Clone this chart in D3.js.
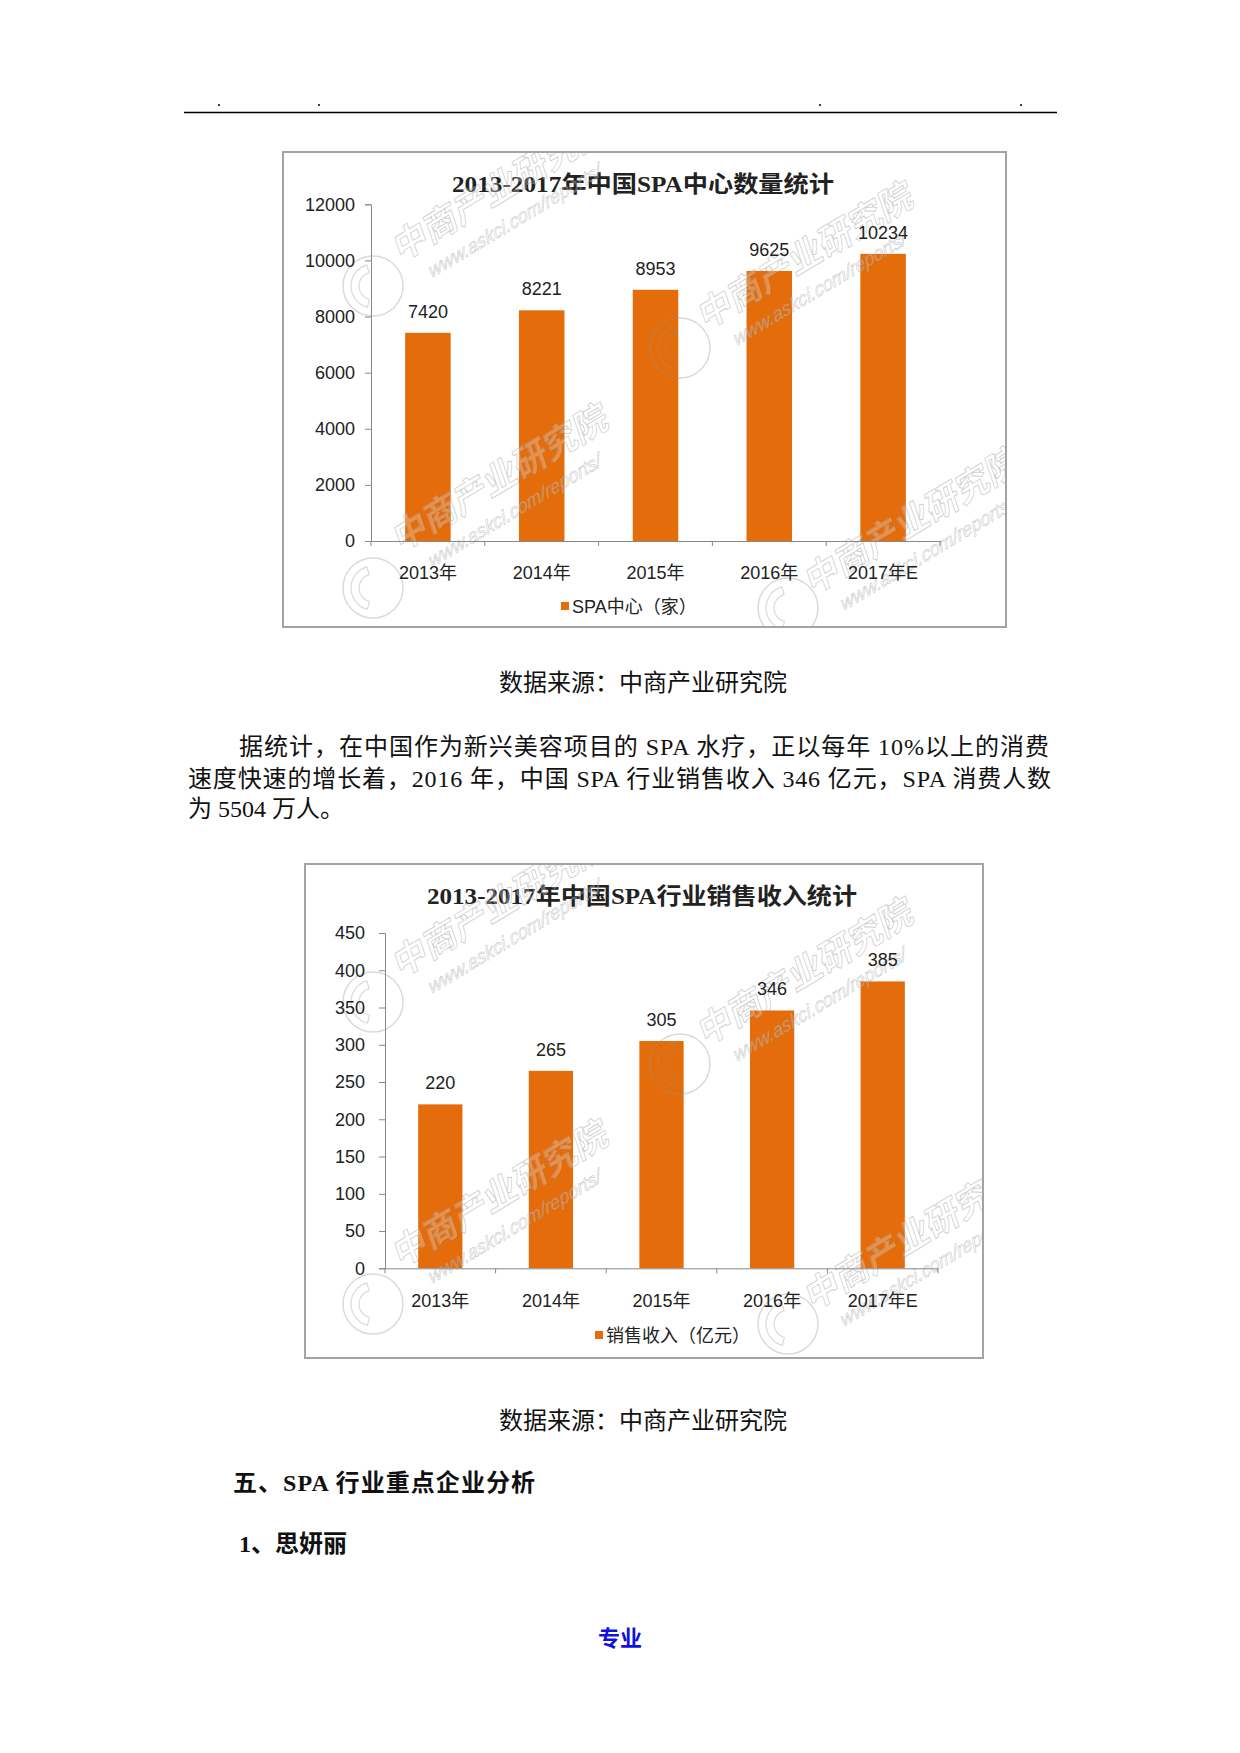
<!DOCTYPE html>
<html>
<head>
<meta charset="utf-8">
<script src="https://cdn.jsdelivr.net/npm/d3@7"></script>
<style>
  body { margin: 0; background: #fff; }
  svg { display: block; }
</style>
</head>
<body>
<svg id="page" width="1240" height="1753"></svg>
<script>
// chart data
const years = ["2013年", "2014年", "2015年", "2016年", "2017年E"];
const spaCenters = [7420, 8221, 8953, 9625, 10234];
const salesRevenue = [220, 265, 305, 346, 385];
const centerTicks = [0, 2000, 4000, 6000, 8000, 10000, 12000];
const revenueTicks = [0, 50, 100, 150, 200, 250, 300, 350, 400, 450];

const serif = "'Liberation Serif', 'Noto Sans CJK SC', serif";
const sans = "'Liberation Sans', 'Noto Sans CJK SC', sans-serif";
const orange = "#e46c0a";

const svg = d3.select("#page");
const defs = svg.append("defs");

// page header rule + dots
svg.append("line")
    .attr("x1", 184).attr("x2", 1057)
    .attr("y1", 112.5).attr("y2", 112.5)
    .attr("stroke", "#000").attr("stroke-width", 1.3);
[219, 319, 820, 1021].forEach(x => {
    svg.append("circle").attr("cx", x).attr("cy", 105).attr("r", 1).attr("fill", "#000");
});

function watermark(g, dx, dy) {
    var marks = [
        {x: 400, y: 262, lx: 375, ly: 290},
        {x: 705, y: 330, lx: 682, ly: 352},
        {x: 400, y: 552, lx: 375, ly: 592},
        {x: 812, y: 595, lx: 790, ly: 612}
    ];
    marks.forEach(m => {
        var w = g.append("g").attr("transform", "translate(" + (m.x + dx) + "," + (m.y + dy) + ") rotate(-31) skewX(-12)");
        w.append("text").text("中商产业研究院")
            .attr("font-family", sans).attr("font-size", 35).attr("font-weight", "bold")
            .attr("fill", "rgba(255,255,255,0.25)").attr("stroke", "rgba(150,150,150,0.45)")
            .attr("stroke-width", 0.9);
        w.append("text").text("www.askci.com/reports/")
            .attr("x", 25).attr("y", 30)
            .attr("font-family", sans).attr("font-size", 19).attr("font-style", "italic")
            .attr("fill", "rgba(255,255,255,0.25)").attr("stroke", "rgba(150,150,150,0.45)")
            .attr("stroke-width", 0.7);
        g.append("circle").attr("cx", m.lx + dx - 2).attr("cy", m.ly + dy - 4).attr("r", 30)
            .attr("fill", "none").attr("stroke", "rgba(150,150,150,0.35)").attr("stroke-width", 1.5);
        g.append("path")
            .attr("d", d3.arc()({innerRadius: 14, outerRadius: 22, startAngle: 3.4, endAngle: 6.0}))
            .attr("transform", "translate(" + (m.lx + dx - 2) + "," + (m.ly + dy - 4) + ")")
            .attr("fill", "none").attr("stroke", "rgba(150,150,150,0.35)").attr("stroke-width", 1.2);
    });
}

function drawChart(cfg) {
    var g = svg.append("g");

    defs.append("clipPath").attr("id", cfg.id)
        .append("rect")
        .attr("x", cfg.box[0]).attr("y", cfg.box[1])
        .attr("width", cfg.box[2]).attr("height", cfg.box[3]);

    g.append("rect")
        .attr("x", cfg.box[0]).attr("y", cfg.box[1])
        .attr("width", cfg.box[2]).attr("height", cfg.box[3])
        .attr("fill", "#fff");

    var x = d3.scaleBand().domain(years).range(cfg.xRange)
        .paddingInner(0.6).paddingOuter(0.3);
    var y = d3.scaleLinear().domain([0, d3.max(cfg.ticks)]).range(cfg.yRange);

    // title
    g.append("text")
        .attr("x", cfg.titleX).attr("y", cfg.titleY + 8)
        .attr("text-anchor", "middle")
        .attr("font-family", serif).attr("font-weight", "bold").attr("font-size", 23)
        .attr("textLength", cfg.titleW).attr("lengthAdjust", "spacingAndGlyphs")
        .attr("fill", "#222")
        .text(cfg.title);

    // bars
    g.selectAll(".bar").data(cfg.values).enter().append("rect")
        .attr("x", (d, i) => x(years[i]))
        .attr("y", d => y(d))
        .attr("width", x.bandwidth())
        .attr("height", d => y(0) - y(d))
        .attr("fill", orange);

    watermark(g.append("g").attr("clip-path", "url(#" + cfg.id + ")"), cfg.wmDx, cfg.wmDy);

    // value labels
    g.selectAll(".val").data(cfg.values).enter().append("text")
        .attr("x", (d, i) => x(years[i]) + x.bandwidth() / 2)
        .attr("y", d => y(d) - 15)
        .attr("text-anchor", "middle")
        .attr("font-family", sans).attr("font-size", 18).attr("fill", "#222")
        .text(d => d);

    // y axis
    var yAxis = g.append("g")
        .attr("transform", "translate(" + cfg.xRange[0] + ",0)")
        .call(d3.axisLeft(y).tickValues(cfg.ticks).tickFormat(d3.format("d"))
            .tickSize(6).tickPadding(cfg.tickPad));
    yAxis.select(".domain").attr("stroke", "#888");
    yAxis.selectAll(".tick line").attr("stroke", "#888");
    yAxis.selectAll("text").attr("font-family", sans).attr("font-size", 18).attr("fill", "#222");

    // x axis line with ticks between categories
    var xAxis = g.append("g")
        .attr("transform", "translate(0," + y(0) + ")")
        .call(d3.axisBottom(x).tickSize(0).tickPadding(cfg.xPad));
    xAxis.select(".domain").attr("stroke", "#888");
    xAxis.selectAll("text").attr("font-family", sans).attr("font-size", 18).attr("fill", "#222");
    var step = x.step();
    var edges = years.map(c => x(c) - step * 0.3).concat([x(years[years.length - 1]) + x.bandwidth() + step * 0.3]);
    xAxis.selectAll(".edge").data(edges).enter().append("line")
        .attr("x1", d => d).attr("x2", d => d)
        .attr("y1", 0).attr("y2", 5)
        .attr("stroke", "#888");

    // legend
    g.append("rect")
        .attr("x", cfg.legend[0]).attr("y", cfg.legend[1] - 4)
        .attr("width", 8).attr("height", 8).attr("fill", orange);
    g.append("text")
        .attr("x", cfg.legend[0] + 11).attr("y", cfg.legend[1] + 6.5)
        .attr("font-family", sans).attr("font-size", 18).attr("fill", "#222")
        .text(cfg.legendText);

    // frame on top
    g.append("rect")
        .attr("x", cfg.box[0]).attr("y", cfg.box[1])
        .attr("width", cfg.box[2]).attr("height", cfg.box[3])
        .attr("fill", "none").attr("stroke", "#a3a3a3").attr("stroke-width", 2);
}

drawChart({
    id: "clip1",
    box: [283, 152, 723, 475],
    xRange: [371, 940],
    yRange: [541, 204.3],
    ticks: centerTicks,
    tickPad: 10,
    xPad: 25,
    values: spaCenters,
    title: "2013-2017年中国SPA中心数量统计",
    titleX: 643, titleY: 184, titleW: 382,
    legend: [561, 606],
    legendText: "SPA中心（家）",
    wmDx: 0, wmDy: 0
});

drawChart({
    id: "clip2",
    box: [305, 864, 678, 494],
    xRange: [385, 938],
    yRange: [1268.3, 933],
    ticks: revenueTicks,
    tickPad: 14,
    xPad: 26,
    values: salesRevenue,
    title: "2013-2017年中国SPA行业销售收入统计",
    titleX: 642, titleY: 896, titleW: 430,
    legend: [595, 1335],
    legendText: "销售收入（亿元）",
    wmDx: 0, wmDy: 716
});

// body text
function bodyText(str, x, y, opts) {
    opts = opts || {};
    var t = svg.append("text")
        .attr("x", x).attr("y", y + 8.5)
        .attr("font-family", serif)
        .attr("font-size", opts.size || 24)
        .attr("font-weight", opts.bold ? "bold" : "normal")
        .attr("fill", opts.color || "#111")
        .attr("text-anchor", opts.anchor || "start")
        .text(str);
    if (opts.len) t.attr("textLength", opts.len).attr("lengthAdjust", "spacing");
    return t;
}

bodyText("数据来源：中商产业研究院", 643, 682, {anchor: "middle"});
bodyText("据统计，在中国作为新兴美容项目的 SPA 水疗，正以每年 10%以上的消费", 239, 746, {len: 810});
bodyText("速度快速的增长着，2016 年，中国 SPA 行业销售收入 346 亿元，SPA 消费人数", 188, 778, {len: 863});
bodyText("为 5504 万人。", 188, 808);
bodyText("数据来源：中商产业研究院", 643, 1420, {anchor: "middle"});
bodyText("五、SPA 行业重点企业分析", 233, 1482, {bold: true, len: 302});
bodyText("1、思妍丽", 239, 1543, {bold: true});
bodyText("专业", 620, 1637, {bold: true, anchor: "middle", color: "#1010e0", size: 22});
</script>
</body>
</html>
